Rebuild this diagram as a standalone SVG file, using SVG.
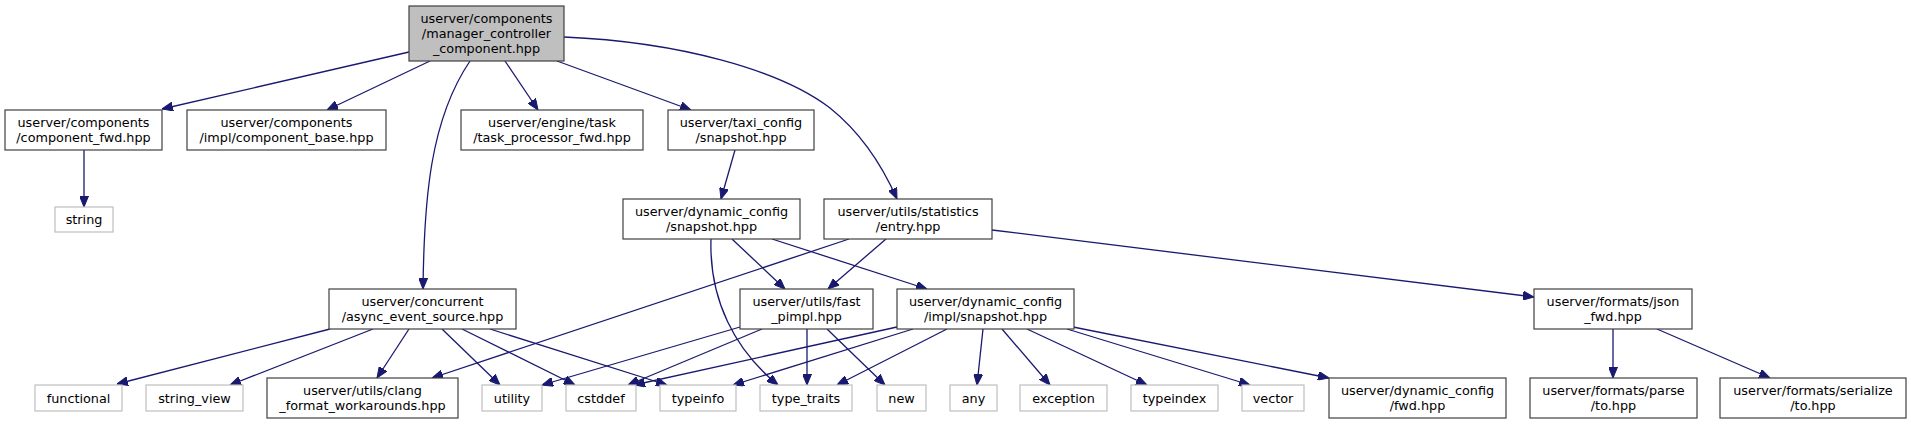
<svg xmlns="http://www.w3.org/2000/svg" width="1911" height="424" viewBox="0 0 1911 424">
<style>
text{font-family:"DejaVu Sans","Liberation Sans",sans-serif;font-size:12.8px;fill:#000;text-anchor:middle}
.n rect{fill:#fff;stroke:#404040;stroke-width:1.2}
.g rect{fill:#fff;stroke:#bfbfbf;stroke-width:1.2}
.r rect{fill:#bfbfbf;stroke:#404040;stroke-width:1.2}
#edges path{fill:none;stroke:#191970;stroke-width:1.3;marker-end:url(#arr)}
</style>
<defs>
<marker id="arr" viewBox="0 0 11 9" refX="11" refY="4.5" markerWidth="11" markerHeight="9" orient="auto" markerUnits="userSpaceOnUse">
<path d="M0,0 L11,4.5 L0,9 Z" fill="#191970" stroke="#191970" stroke-width="1"/>
</marker>
</defs>
<rect width="1911" height="424" fill="#fff"/>
<g id="edges">
<path d="M409,52 L162,109"/>
<path d="M430,61 L327,110"/>
<path d="M470,61 C430,120 424,200 423,289"/>
<path d="M505,61 L538,110"/>
<path d="M557,61 L691,110"/>
<path d="M564,37 C680,42 780,70 830,108 C860,132 882,165 897,199"/>
<path d="M84,150 L84,207"/>
<path d="M735,150 L721,199"/>
<path d="M732,239 L785,289"/>
<path d="M772,239 L927,289"/>
<path d="M711,239 C709,300 735,350 778,385"/>
<path d="M886,239 L828,289"/>
<path d="M849,239 L432,378"/>
<path d="M992,230 L1534,297"/>
<path d="M330,329 L117,384"/>
<path d="M373,329 L230,385"/>
<path d="M409,329 L377,378"/>
<path d="M442,329 L500,385"/>
<path d="M462,329 L575,385"/>
<path d="M490,329 L667,385"/>
<path d="M740,327 L542,385"/>
<path d="M762,329 L628,385"/>
<path d="M807,329 L807,385"/>
<path d="M827,329 L885,385"/>
<path d="M897,327 L634,385"/>
<path d="M913,329 L733,385"/>
<path d="M947,329 L837,385"/>
<path d="M983,329 L977,385"/>
<path d="M1002,329 L1050,385"/>
<path d="M1027,329 L1147,385"/>
<path d="M1067,329 L1250,385"/>
<path d="M1073,327 L1329,378"/>
<path d="M1613,329 L1613,378"/>
<path d="M1657,329 L1770,378"/>
</g>
<g id="root" class="r"><rect x="409" y="6" width="155" height="55"/><text x="486.5" y="22.5">userver/components</text><text x="486.5" y="37.5">/manager_controller</text><text x="486.5" y="52.5">_component.hpp</text></g>
<g id="component_fwd" class="n"><rect x="5" y="110" width="157" height="40"/><text x="83.5" y="126.5">userver/components</text><text x="83.5" y="141.5">/component_fwd.hpp</text></g>
<g id="component_base" class="n"><rect x="187" y="110" width="199" height="40"/><text x="286.5" y="126.5">userver/components</text><text x="286.5" y="141.5">/impl/component_base.hpp</text></g>
<g id="task_processor_fwd" class="n"><rect x="461" y="110" width="182" height="40"/><text x="552" y="126.5">userver/engine/task</text><text x="552" y="141.5">/task_processor_fwd.hpp</text></g>
<g id="taxi_config_snapshot" class="n"><rect x="668" y="110" width="146" height="40"/><text x="741" y="126.5">userver/taxi_config</text><text x="741" y="141.5">/snapshot.hpp</text></g>
<g id="string" class="g"><rect x="55" y="207" width="58" height="25"/><text x="84" y="223.5">string</text></g>
<g id="dynamic_config_snapshot" class="n"><rect x="623" y="199" width="177" height="40"/><text x="711.5" y="215.5">userver/dynamic_config</text><text x="711.5" y="230.5">/snapshot.hpp</text></g>
<g id="statistics_entry" class="n"><rect x="824" y="199" width="168" height="40"/><text x="908" y="215.5">userver/utils/statistics</text><text x="908" y="230.5">/entry.hpp</text></g>
<g id="async_event_source" class="n"><rect x="329" y="289" width="187" height="40"/><text x="422.5" y="305.5">userver/concurrent</text><text x="422.5" y="320.5">/async_event_source.hpp</text></g>
<g id="fast_pimpl" class="n"><rect x="740" y="289" width="133" height="40"/><text x="806.5" y="305.5">userver/utils/fast</text><text x="806.5" y="320.5">_pimpl.hpp</text></g>
<g id="dynamic_config_impl_snapshot" class="n"><rect x="897" y="289" width="177" height="40"/><text x="985.5" y="305.5">userver/dynamic_config</text><text x="985.5" y="320.5">/impl/snapshot.hpp</text></g>
<g id="json_fwd" class="n"><rect x="1534" y="289" width="158" height="40"/><text x="1613" y="305.5">userver/formats/json</text><text x="1613" y="320.5">_fwd.hpp</text></g>
<g id="clang_format_workarounds" class="n"><rect x="267" y="378" width="191" height="40"/><text x="362.5" y="394.5">userver/utils/clang</text><text x="362.5" y="409.5">_format_workarounds.hpp</text></g>
<g id="functional" class="g"><rect x="35" y="385" width="87" height="26"/><text x="78.5" y="402.5">functional</text></g>
<g id="string_view" class="g"><rect x="146" y="385" width="97" height="26"/><text x="194.5" y="402.5">string_view</text></g>
<g id="utility" class="g"><rect x="482" y="385" width="60" height="26"/><text x="512" y="402.5">utility</text></g>
<g id="cstddef" class="g"><rect x="566" y="385" width="70" height="26"/><text x="601" y="402.5">cstddef</text></g>
<g id="typeinfo" class="g"><rect x="660" y="385" width="76" height="26"/><text x="698" y="402.5">typeinfo</text></g>
<g id="type_traits" class="g"><rect x="760" y="385" width="92" height="26"/><text x="806" y="402.5">type_traits</text></g>
<g id="new" class="g"><rect x="877" y="385" width="49" height="26"/><text x="901.5" y="402.5">new</text></g>
<g id="any" class="g"><rect x="950" y="385" width="47" height="26"/><text x="973.5" y="402.5">any</text></g>
<g id="exception" class="g"><rect x="1020" y="385" width="87" height="26"/><text x="1063.5" y="402.5">exception</text></g>
<g id="typeindex" class="g"><rect x="1131" y="385" width="87" height="26"/><text x="1174.5" y="402.5">typeindex</text></g>
<g id="vector" class="g"><rect x="1242" y="385" width="62" height="26"/><text x="1273" y="402.5">vector</text></g>
<g id="dynamic_config_fwd" class="n"><rect x="1329" y="378" width="177" height="40"/><text x="1417.5" y="394.5">userver/dynamic_config</text><text x="1417.5" y="409.5">/fwd.hpp</text></g>
<g id="parse_to" class="n"><rect x="1530" y="378" width="167" height="40"/><text x="1613.5" y="394.5">userver/formats/parse</text><text x="1613.5" y="409.5">/to.hpp</text></g>
<g id="serialize_to" class="n"><rect x="1720" y="378" width="186" height="40"/><text x="1813" y="394.5">userver/formats/serialize</text><text x="1813" y="409.5">/to.hpp</text></g>
</svg>
